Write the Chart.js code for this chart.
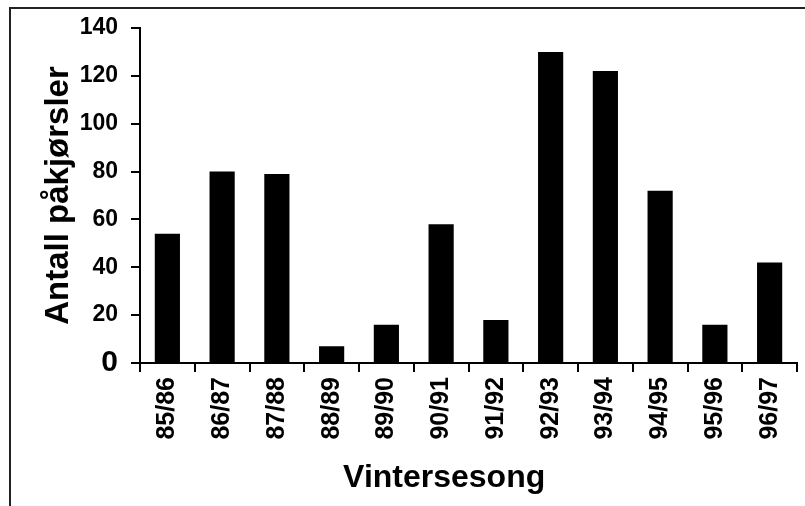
<!DOCTYPE html>
<html>
<head>
<meta charset="utf-8">
<script src="https://cdn.jsdelivr.net/npm/chart.js@4.4.1/dist/chart.umd.min.js"></script>
<style>
  html, body { margin: 0; padding: 0; background: #fff; }
  #wrap { position: relative; width: 805px; height: 506px; overflow: hidden; }
  #frame { position: absolute; left: 9px; top: 7px; right: -4px; bottom: -4px; border-top: 2px solid #222; border-left: 2px solid #222; }
  #chart { position: absolute; left: 0; top: 0; }
</style>
</head>
<body>
<div id="wrap">
  <div id="frame"></div>
  <canvas id="chart" width="805" height="506"></canvas>
</div>
<script>
const seasons = ["85/86", "86/87", "87/88", "88/89", "89/90", "90/91", "91/92", "92/93", "93/94", "94/95", "95/96", "96/97"];
const collisions = [54, 80, 79, 7, 16, 58, 18, 130, 122, 72, 16, 42];
const yMin = 0;
const yMax = 140;
const yStep = 20;
const xTitle = "Vintersesong";
const yTitle = "Antall påkjørsler";

const FONT = '"Liberation Sans", Arial, Helvetica, sans-serif';

// x axis title sits a little left of the plot centre in the original
const xTitlePlugin = {
  id: "xTitle",
  afterDraw(chart) {
    const { ctx, chartArea } = chart;
    ctx.save();
    ctx.font = "bold 32px " + FONT;
    ctx.fillStyle = "#000";
    ctx.textAlign = "center";
    ctx.textBaseline = "alphabetic";
    ctx.fillText(xTitle, chartArea.left + (chartArea.right - chartArea.left) * 0.463, 487);
    ctx.restore();
  }
};

new Chart(document.getElementById("chart"), {
  type: "bar",
  data: {
    labels: seasons,
    datasets: [{
      data: collisions,
      backgroundColor: "#000",
      borderWidth: 0,
      barPercentage: 0.46,
      categoryPercentage: 1
    }]
  },
  options: {
    responsive: false,
    animation: false,
    layout: { padding: { left: 0, top: 28, right: 8, bottom: 0 } },
    plugins: {
      legend: { display: false },
      tooltip: { enabled: false }
    },
    scales: {
      x: {
        afterFit(scale) { scale.height = 143; },
        grid: { display: true, offset: true, drawOnChartArea: false, drawTicks: true, tickLength: 9, color: "#000", lineWidth: 2 },
        border: { display: true, color: "#000", width: 2 },
        ticks: {
          autoSkip: false,
          minRotation: 90,
          maxRotation: 90,
          padding: 5,
          color: "#000",
          font: { family: FONT, size: 25, weight: "bold" }
        }
      },
      y: {
        min: yMin,
        max: yMax,
        afterFit(scale) { scale.width = 140; },
        grid: { drawOnChartArea: false, drawTicks: true, tickLength: 9, color: "#000", lineWidth: 2 },
        border: { display: true, color: "#000", width: 2 },
        ticks: {
          stepSize: yStep,
          padding: 13,
          color: "#000",
          font: (ctx) => ctx.tick && ctx.tick.value === 0
            ? { family: FONT, size: 30, weight: "bold" }
            : { family: FONT, size: 23, weight: "bold" }
        },
        title: {
          display: true,
          text: yTitle,
          color: "#000",
          padding: { top: 42, bottom: 0 },
          font: { family: FONT, size: 33, weight: "bold", lineHeight: 1 }
        }
      }
    }
  },
  plugins: [xTitlePlugin]
});
</script>
</body>
</html>
